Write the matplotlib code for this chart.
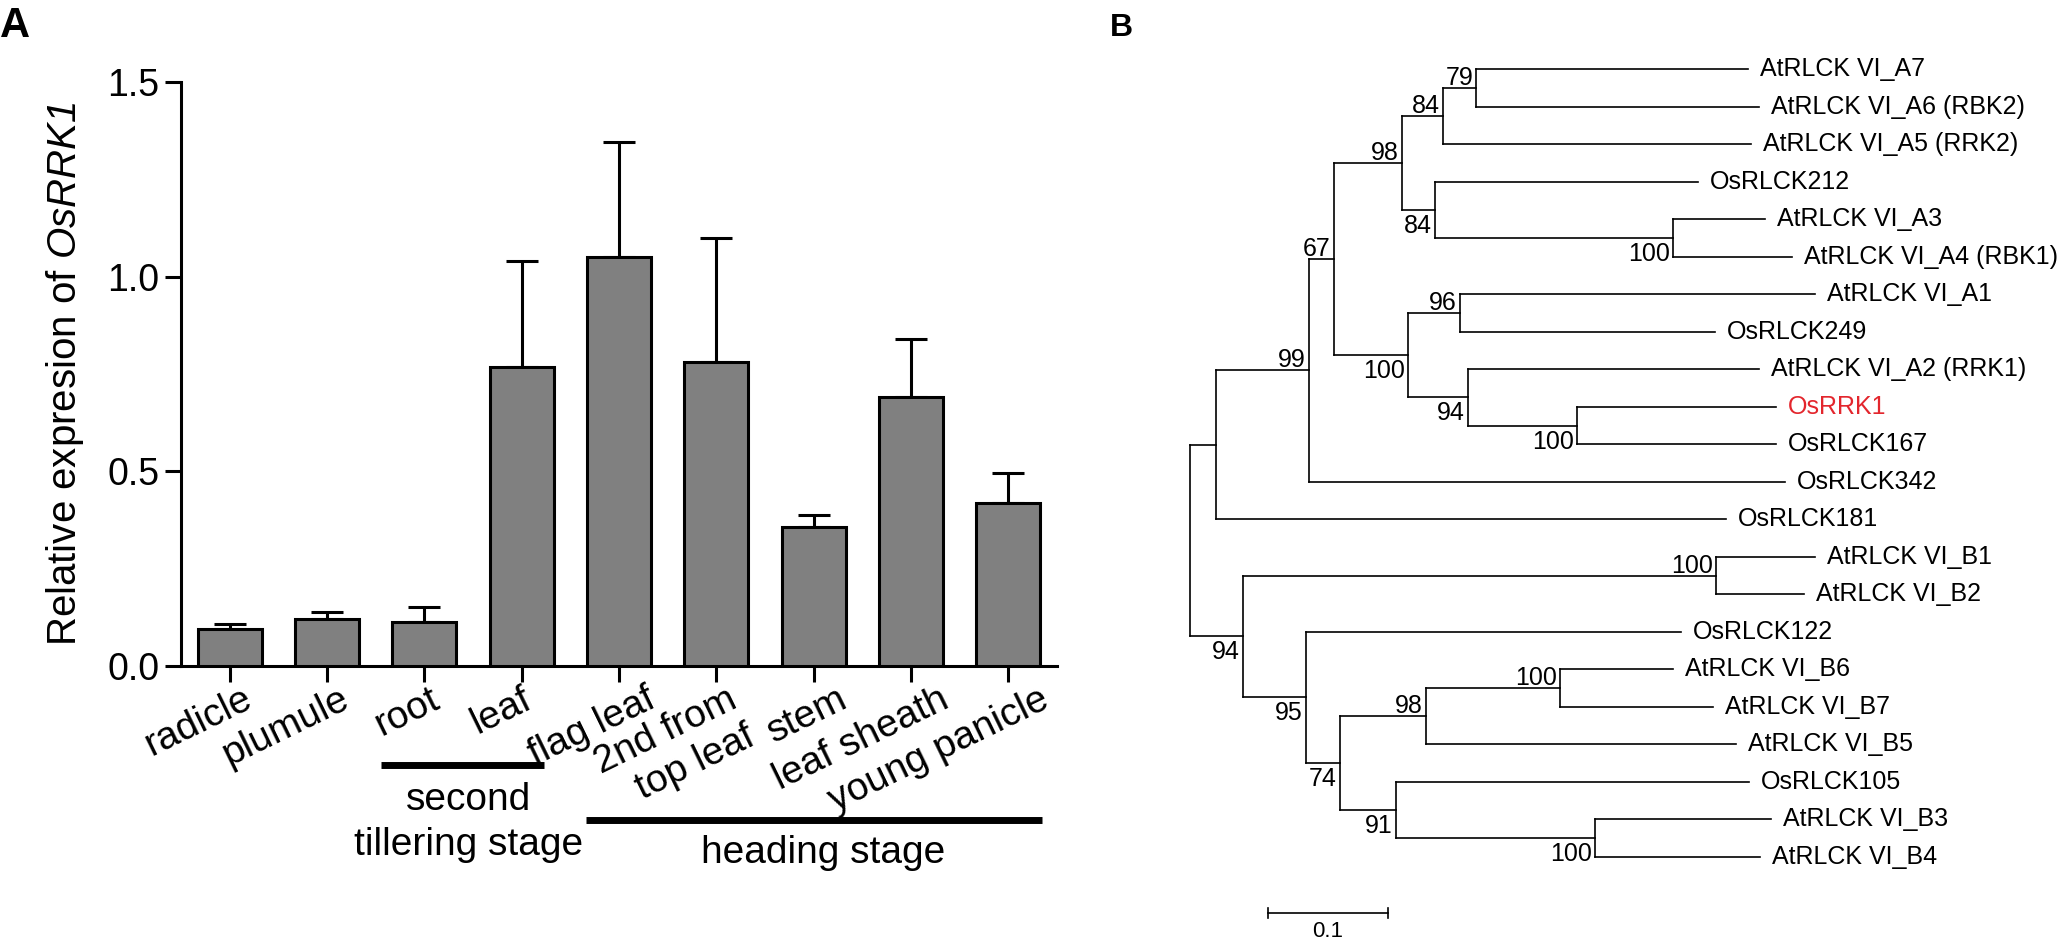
import matplotlib
matplotlib.use('Agg')
import matplotlib.pyplot as plt
import matplotlib.transforms as mtransforms
import numpy as np

plt.rcParams['font.family'] = ['Liberation Sans', 'DejaVu Sans']
plt.rcParams['mathtext.fontset'] = 'custom'
plt.rcParams['mathtext.rm'] = 'Liberation Sans'
plt.rcParams['mathtext.it'] = 'Liberation Sans:italic'
plt.rcParams['mathtext.bf'] = 'Liberation Sans:italic'

# ---------------- data: panel A ----------------
tissues = ['radicle', 'plumule', 'root', 'leaf', 'flag leaf',
           '2nd from\ntop leaf', 'stem', 'leaf sheath', 'young panicle']
expression = [0.095, 0.120, 0.112, 0.767, 1.050, 0.782, 0.357, 0.690, 0.419]
error_upper = [0.012, 0.019, 0.039, 0.273, 0.296, 0.318, 0.030, 0.150, 0.077]
yticks = [0.0, 0.5, 1.0, 1.5]
ytick_labels = ['0.0', '0.5', '1.0', '1.5']
stage_names = ['second\ntillering stage', 'heading stage']
stage_members = [(2, 3), (4, 8)]

# ---------------- data: panel B (tree, newick pieces) ----------------
clade_A7A6 = "('AtRLCK VI_A7':0.2267,'AtRLCK VI_A6 (RBK2)':0.2358)79:0.0275"
clade_84 = "(" + clade_A7A6 + ",'AtRLCK VI_A5 (RRK2)':0.2567)84:0.0342"
clade_A3A4 = "('AtRLCK VI_A3':0.0767,'AtRLCK VI_A4 (RBK1)':0.0992)100:0.1983"
clade_84b = "('OsRLCK212':0.2192," + clade_A3A4 + ")84:0.0275"
clade_98 = "(" + clade_84 + "," + clade_84b + ")98:0.0567"
clade_96 = "('AtRLCK VI_A1':0.2958,'OsRLCK249':0.2125)96:0.0433"
clade_rrk = "('OsRRK1':0.1658,'OsRLCK167':0.1658)100:0.0908"
clade_94 = "('AtRLCK VI_A2 (RRK1)':0.2425," + clade_rrk + ")94:0.0500"
clade_100b = "(" + clade_96 + "," + clade_94 + ")100:0.0617"
clade_67 = "(" + clade_98 + "," + clade_100b + ")67:0.0208"
clade_99 = "(" + clade_67 + ",'OsRLCK342':0.3967)99:0.0775"
clade_181 = "(" + clade_99 + ",'OsRLCK181':0.4250):0.0217"
clade_B12 = "('AtRLCK VI_B1':0.0825,'AtRLCK VI_B2':0.0733)100:0.3942"
clade_B67 = "('AtRLCK VI_B6':0.0942,'AtRLCK VI_B7':0.1275)100:0.1117"
clade_98b = "(" + clade_B67 + ",'AtRLCK VI_B5':0.2583)98:0.0717"
clade_B34 = "('AtRLCK VI_B3':0.1467,'AtRLCK VI_B4':0.1375)100:0.1658"
clade_91 = "('OsRLCK105':0.2942," + clade_B34 + ")91:0.0467"
clade_74 = "(" + clade_98b + "," + clade_91 + ")74:0.0283"
clade_95 = "('OsRLCK122':0.3125," + clade_74 + ")95:0.0525"
clade_94b = "(" + clade_B12 + "," + clade_95 + ")94:0.0442"
tree_newick = "(" + clade_181 + "," + clade_94b + ");"
highlight_tip = 'OsRRK1'
scale_bar_value = 0.1

# ---------------- figure ----------------
W, H = 2057, 940
fig = plt.figure(figsize=(W / 100, H / 100), dpi=100)


def fx(px):
    return px / W


def fy(py):
    return 1 - py / H


# ---------------- panel A ----------------
ax = fig.add_axes([fx(181), fy(666), fx(1057) - fx(181), fy(82) - fy(666)])
x = np.arange(len(tissues))
ax.bar(x, expression, width=0.66, color='#808080', edgecolor='black',
       linewidth=2.2, zorder=3)
ax.errorbar(x, expression, yerr=[np.zeros(len(x)), error_upper], fmt='none',
            ecolor='black', elinewidth=2.2, capsize=11.5, capthick=2.2, zorder=2)
ax.set_xlim(-0.5, len(tissues) - 0.5)
ax.set_ylim(0, 1.5)
ax.set_yticks(yticks)
ax.set_yticklabels(ytick_labels, fontsize=27)
ax.set_xticks(x)
ax.set_xticklabels([])
for s in ['top', 'right']:
    ax.spines[s].set_visible(False)
for s in ['left', 'bottom']:
    ax.spines[s].set_linewidth(2.2)
ax.tick_params(axis='both', direction='out', length=11.5, width=2.2, pad=4)
ax.set_ylabel('Relative expresion of $\\mathbf{OsRRK1}$', fontsize=29)
ax.yaxis.set_label_coords((86 - 181) / 876, 0.5)

label_dx = [12, 12, 5, 0, 26, 10, 24, 28, 30]
for i, lbl in enumerate(tissues):
    ax.annotate(lbl, xy=(i, 0), xycoords='data', xytext=(label_dx[i], -15),
                textcoords='offset pixels', rotation=26, ha='right', va='top',
                rotation_mode='anchor', multialignment='right', fontsize=28,
                annotation_clip=False)

bt = mtransforms.blended_transform_factory(ax.transData, fig.transFigure)
line_ext = [(-0.45, 0.23), (-0.34, 0.35)]
line_y = [765, 820]
for (a, b), (l, r), ly in zip(stage_members, line_ext, line_y):
    ax.plot([a + l, b + r], [fy(ly), fy(ly)], transform=bt, color='black',
            lw=5, solid_capstyle='butt', clip_on=False)
sec, till = stage_names[0].split('\n')
ax.text(2.45, fy(810), sec, transform=bt, ha='center', va='baseline', fontsize=28)
ax.text(2.45, fy(855), till, transform=bt, ha='center', va='baseline', fontsize=28)
ax.text(6.1, fy(863), stage_names[1], transform=bt, ha='center', va='baseline',
        fontsize=28)

fig.text(0.0, fy(37), 'A', fontsize=30, fontweight='bold', ha='left', va='baseline')
fig.text(fx(1110), fy(36), 'B', fontsize=23, fontweight='bold', ha='left', va='baseline')


# ---------------- panel B: tree ----------------
def parse_newick(s):
    pos = 0

    def parse_node():
        nonlocal pos
        node = {'children': [], 'name': '', 'len': 0.0, 'support': None}
        if s[pos] == '(':
            pos += 1
            while True:
                node['children'].append(parse_node())
                if s[pos] == ',':
                    pos += 1
                    continue
                if s[pos] == ')':
                    pos += 1
                    break
        if pos < len(s) and s[pos] == "'":
            end = s.index("'", pos + 1)
            node['name'] = s[pos + 1:end]
            pos = end + 1
        else:
            start = pos
            while pos < len(s) and s[pos] not in ':,();':
                pos += 1
            lab = s[start:pos]
            if lab:
                if node['children']:
                    node['support'] = lab
                else:
                    node['name'] = lab
        if pos < len(s) and s[pos] == ':':
            pos += 1
            start = pos
            while pos < len(s) and s[pos] not in ',();':
                pos += 1
            node['len'] = float(s[start:pos])
        return node

    return parse_node()


root = parse_newick(tree_newick)
tip_counter = [0]


def layout(node, x0):
    node['x'] = x0
    if not node['children']:
        node['y'] = tip_counter[0]
        tip_counter[0] += 1
    else:
        for c in node['children']:
            layout(c, x0 + c['len'])
        node['y'] = 0.5 * (node['children'][0]['y'] + node['children'][-1]['y'])


root['len'] = 0.0
layout(root, 0.0)

PX_X = 1200.0   # pixels per substitution unit
PX_Y = 37.5     # pixels per tip
X0, Y0 = 1190.0, 69.3
axt = fig.add_axes([fx(1100), 0, 1 - fx(1100), 1])
axt.set_xlim((1100 - X0) / PX_X, (W - X0) / PX_X)
axt.set_ylim((H - Y0) / PX_Y, (0 - Y0) / PX_Y)
axt.axis('off')

lw_tree = 1.2
TS = 18


def draw(node, parent=None, idx=None):
    if parent is not None:
        axt.plot([parent['x'], node['x']], [node['y'], node['y']], color='black',
                 lw=lw_tree, solid_capstyle='projecting')
    if node['children']:
        ys = [c['y'] for c in node['children']]
        axt.plot([node['x'], node['x']], [min(ys), max(ys)], color='black',
                 lw=lw_tree, solid_capstyle='projecting')
        if node['support'] is not None and parent is not None:
            upper = idx == 0
            axt.annotate(node['support'], xy=(node['x'], node['y']),
                         xytext=(-3, 3 if upper else -4), textcoords='offset pixels',
                         ha='right', va='baseline' if upper else 'top', fontsize=TS)
        for k, c in enumerate(node['children']):
            draw(c, node, k)
    else:
        col = '#E3262D' if node['name'] == highlight_tip else 'black'
        axt.annotate(node['name'], xy=(node['x'], node['y']), xytext=(12, -7),
                     textcoords='offset pixels', ha='left', va='baseline',
                     fontsize=TS, color=col)


draw(root)

# scale bar
sb_x0 = (1268 - X0) / PX_X
sb_y = (913 - Y0) / PX_Y
tick_h = 5 / PX_Y
axt.plot([sb_x0, sb_x0 + scale_bar_value], [sb_y, sb_y], color='black', lw=lw_tree)
for xx in [sb_x0, sb_x0 + scale_bar_value]:
    axt.plot([xx, xx], [sb_y - tick_h, sb_y + tick_h], color='black', lw=lw_tree)
axt.text(sb_x0 + scale_bar_value / 2, (921 - Y0) / PX_Y, f'{scale_bar_value:g}',
         ha='center', va='top', fontsize=16)

fig.savefig('out.png', dpi=100)
